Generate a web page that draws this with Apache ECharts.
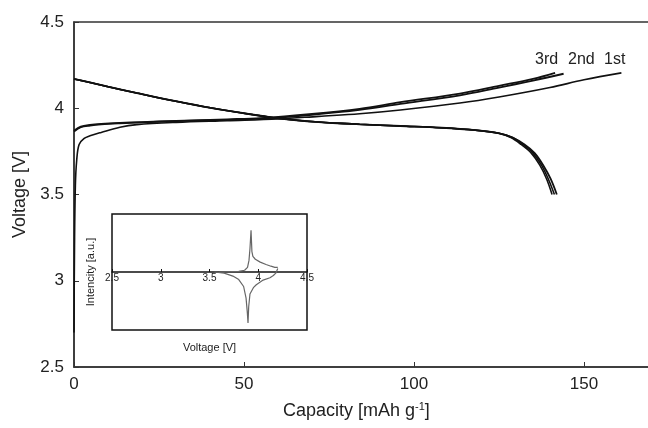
<!DOCTYPE html>
<html>
<head>
<meta charset="utf-8">
<script src="https://cdn.jsdelivr.net/npm/echarts@6/dist/echarts.min.js"></script>
<style>
  html, body { margin: 0; padding: 0; background: #fff; }
  #main { width: 648px; height: 428px; }
</style>
</head>
<body>
<div id="main"></div>
<script>
// 充放电曲线 (容量 mAh/g, 电压 V)
var charge1Cap = [0, 0.15, 0.4, 0.8, 1.5, 3, 4.7, 8, 13.5, 18.5, 30, 45, 60, 72, 84, 96, 113.5, 125, 140, 150, 161];
var charge1V   = [2.7, 3.2, 3.55, 3.7, 3.79, 3.825, 3.84, 3.86, 3.89, 3.905, 3.918, 3.928, 3.938, 3.953, 3.968, 3.99, 4.03, 4.065, 4.12, 4.165, 4.205];

var charge2Cap = [0, 2, 4.7, 8, 13.5, 20, 30, 45, 55, 70, 84, 96, 113.5, 125, 135, 144];
var charge2V   = [3.865, 3.89, 3.9, 3.907, 3.913, 3.918, 3.925, 3.933, 3.94, 3.962, 3.99, 4.025, 4.075, 4.12, 4.16, 4.2];

var charge3Cap = [0, 2, 4.7, 8, 13.5, 20, 30, 45, 55, 70, 84, 96, 113.5, 125, 135, 141.5];
var charge3V   = [3.87, 3.893, 3.903, 3.909, 3.915, 3.92, 3.927, 3.936, 3.943, 3.967, 3.997, 4.035, 4.085, 4.13, 4.17, 4.205];

var discharge1Cap = [0, 5, 10, 18.5, 28, 38, 48, 60, 72, 84, 96, 108, 118, 125, 129, 132.5, 135.5, 138, 140.2, 142];
var discharge1V   = [4.17, 4.148, 4.125, 4.088, 4.048, 4.01, 3.977, 3.942, 3.92, 3.907, 3.897, 3.887, 3.873, 3.855, 3.83, 3.79, 3.74, 3.67, 3.59, 3.5];

var discharge2Cap = [0, 5, 10, 18.5, 28, 38, 48, 60, 72, 84, 96, 108, 118, 125, 129, 132, 135, 137.5, 139.5, 141.3];
var discharge2V   = [4.17, 4.148, 4.125, 4.088, 4.048, 4.01, 3.977, 3.942, 3.92, 3.907, 3.897, 3.887, 3.873, 3.855, 3.83, 3.79, 3.74, 3.67, 3.59, 3.5];

var discharge3Cap = [0, 5, 10, 18.5, 28, 38, 48, 60, 72, 84, 96, 108, 118, 125, 128.5, 131.5, 134.5, 137, 139, 140.6];
var discharge3V   = [4.17, 4.148, 4.125, 4.088, 4.048, 4.01, 3.977, 3.942, 3.92, 3.907, 3.897, 3.887, 3.873, 3.855, 3.83, 3.79, 3.74, 3.67, 3.59, 3.5];

// 插图 CV 曲线 (电压 V, 强度 a.u.)
var cvOxV = [3.6, 3.8, 3.86, 3.89, 3.905, 3.915, 3.926, 3.935, 3.945, 3.97, 4.02, 4.08, 4.13, 4.17, 4.2];
var cvOxI = [0, 0.01, 0.03, 0.08, 0.2, 0.4, 0.72, 0.35, 0.27, 0.22, 0.17, 0.13, 0.1, 0.08, 0.08];
var cvRedV = [3.55, 3.65, 3.74, 3.8, 3.85, 3.875, 3.888, 3.895, 3.902, 3.915, 3.95, 3.98, 4.05, 4.12, 4.155, 4.18, 4.2];
var cvRedI = [0, -0.02, -0.07, -0.13, -0.25, -0.45, -0.7, -0.88, -0.6, -0.38, -0.27, -0.22, -0.14, -0.1, -0.06, -0.02, 0.06];

var mainTicks = { x: [0, 50, 100, 150], y: [2.5, 3, 3.5, 4, 4.5] };
var cycleLabels = ['3rd', '2nd', '1st'];

function pairs(xs, ys) {
    return xs.map(function (x, i) { return [x, ys[i]]; });
}

var chart = echarts.init(document.getElementById('main'), null, { renderer: 'canvas' });

var FONT = 'Liberation Sans, Arial, sans-serif';

function mainLine(name, xs, ys, w) {
    return {
        name: name,
        type: 'line',
        xAxisIndex: 0,
        yAxisIndex: 0,
        data: pairs(xs, ys),
        showSymbol: false,
        smooth: 0.35,
        lineStyle: { color: '#111', width: w },
        z: 3
    };
}

function insetLine(name, xs, ys) {
    return {
        name: name,
        type: 'line',
        xAxisIndex: 1,
        yAxisIndex: 1,
        data: pairs(xs, ys),
        showSymbol: false,
        lineStyle: { color: '#666', width: 1.2 },
        z: 3
    };
}

var option = {
    backgroundColor: '#fff',
    animation: false,
    grid: [
        { left: 74, top: 22, width: 578, height: 345, outerBoundsMode: 'none', containLabel: false,
          show: true, borderColor: '#333', borderWidth: 1.5, backgroundColor: 'transparent' },
        { left: 112, top: 214, width: 195, height: 116, outerBoundsMode: 'none', containLabel: false,
          show: true, borderColor: '#111', borderWidth: 1.5, backgroundColor: 'transparent' }
    ],
    xAxis: [{
        gridIndex: 0,
        type: 'value',
        min: 0,
        max: 170,
        interval: 50,
        axisLine: { show: true, onZero: false, lineStyle: { color: '#333', width: 1.5 } },
        axisTick: { show: true, inside: true, length: 5, lineStyle: { color: '#333' } },
        axisLabel: {
            fontSize: 17, color: '#222', fontFamily: FONT, margin: 9,
            formatter: function (v) { return mainTicks.x.indexOf(v) >= 0 ? String(v) : ''; }
        },
        splitLine: { show: false }
    }, {
        gridIndex: 1,
        type: 'value',
        min: 2.5,
        max: 4.5,
        interval: 0.5,
        position: 'bottom',
        offset: -58,
        axisLine: { show: true, onZero: false, lineStyle: { color: '#111', width: 1.5 } },
        axisTick: { show: true, inside: true, length: 3, lineStyle: { color: '#111' } },
        axisLabel: { fontSize: 10, color: '#222', fontFamily: FONT, margin: 1 },
        splitLine: { show: false },
        name: 'Voltage [V]',
        nameLocation: 'middle',
        nameGap: 70,
        nameTextStyle: { fontSize: 11, color: '#222', fontFamily: FONT }
    }],
    yAxis: [{
        gridIndex: 0,
        type: 'value',
        min: 2.5,
        max: 4.5,
        interval: 0.5,
        axisLine: { show: true, lineStyle: { color: '#333', width: 1.5 } },
        axisTick: { show: true, inside: true, length: 5, lineStyle: { color: '#333' } },
        axisLabel: { fontSize: 17, color: '#222', fontFamily: FONT, margin: 10 },
        splitLine: { show: false },
        name: 'Voltage [V]',
        nameLocation: 'middle',
        nameRotate: 90,
        nameGap: 37,
        nameTextStyle: { fontSize: 18, color: '#222', fontFamily: FONT }
    }, {
        gridIndex: 1,
        type: 'value',
        min: -1,
        max: 1,
        axisLine: { show: false },
        axisTick: { show: false },
        axisLabel: { show: false },
        splitLine: { show: false },
        name: 'Intencity [a.u.]',
        nameLocation: 'middle',
        nameRotate: 90,
        nameGap: 16,
        nameTextStyle: { fontSize: 11, color: '#222', fontFamily: FONT }
    }],
    graphic: [{
        type: 'text',
        left: 283,
        top: 401,
        style: {
            text: 'Capacity [mAh g{sup|-1}]',
            font: '18px ' + FONT,
            fill: '#222',
            rich: {
                sup: { fontSize: 11, verticalAlign: 'top', padding: [0, 0, 9, 0], fill: '#222' }
            }
        }
    }, {
        type: 'text', left: 535, top: 52,
        style: { text: cycleLabels[0], font: '16px ' + FONT, fill: '#222' }
    }, {
        type: 'text', left: 568, top: 52,
        style: { text: cycleLabels[1], font: '16px ' + FONT, fill: '#222' }
    }, {
        type: 'text', left: 604, top: 52,
        style: { text: cycleLabels[2], font: '16px ' + FONT, fill: '#222' }
    }],
    series: [
        mainLine('1st charge', charge1Cap, charge1V, 1.6),
        mainLine('2nd charge', charge2Cap, charge2V, 1.8),
        mainLine('3rd charge', charge3Cap, charge3V, 1.8),
        mainLine('1st discharge', discharge1Cap, discharge1V, 1.8),
        mainLine('2nd discharge', discharge2Cap, discharge2V, 1.6),
        mainLine('3rd discharge', discharge3Cap, discharge3V, 1.6),
        insetLine('oxidation', cvOxV, cvOxI),
        insetLine('reduction', cvRedV, cvRedI)
    ]
};

chart.setOption(option);
</script>
</body>
</html>
